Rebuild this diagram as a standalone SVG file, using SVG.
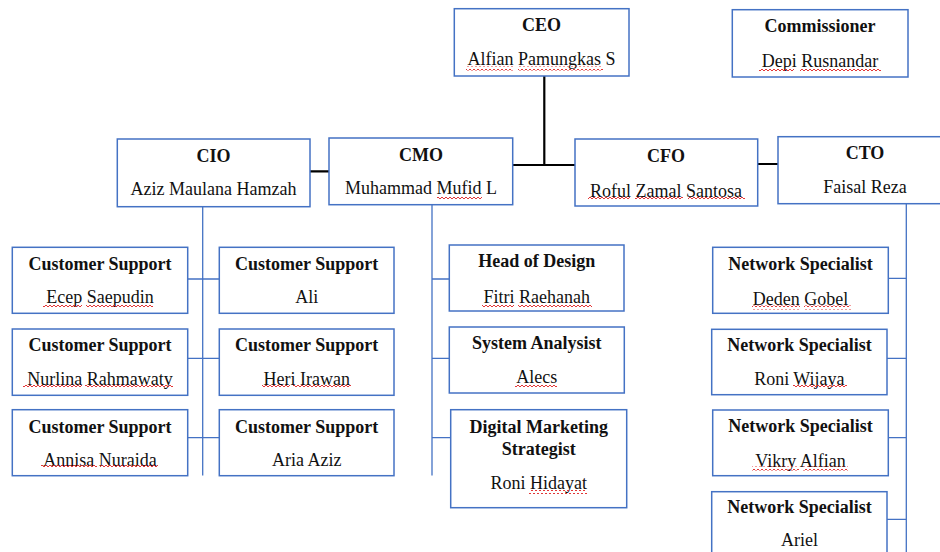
<svg xmlns="http://www.w3.org/2000/svg" width="940" height="552" viewBox="0 0 940 552">
<style>
.box{fill:#fff;stroke:#4472C4;stroke-width:1.5}
.t{font-family:"Liberation Serif","Times New Roman",serif;font-size:18px;fill:#111;text-anchor:middle}
.b{font-weight:bold}
.blk{stroke:#000;stroke-width:2.2;fill:none}
.blu{stroke:#4472C4;stroke-width:1.3;fill:none}
.sq{fill:url(#wave)}
</style>
<defs>
<pattern id="wave" width="4" height="4" patternUnits="userSpaceOnUse">
<path d="M0 3 L2 1 L4 3" fill="none" stroke="#e02020" stroke-width="0.9"/>
</pattern>
</defs>
<rect width="940" height="552" fill="#fff"/>
<g id="connectors">
<path class="blk" d="M544.3 76 V165 M512 165 H575 M757 164 H778 M310 171.3 H329"/>
<path class="blu" d="M202.7 207 V475.5 M188 279 H219 M188 358.3 H219 M188 437.7 H219"/>
<path class="blu" d="M432 205 V475.5 M432 279 H449 M432 358.3 H449 M432 437.7 H450.7"/>
<path class="blu" d="M906.3 204 V552 M888.3 278.3 H906.3 M885 358.3 H906.3 M888.3 437.7 H906.3 M887 519.3 H906.3"/>
</g>
<g id="ceo">
<rect class="box" x="454.3" y="8.7" width="174.7" height="67.3"/>
<text class="t b" x="541.5" y="30.7">CEO</text>
<text class="t" x="541.5" y="65">Alfian Pamungkas S</text>
<rect class="sq" x="466" y="66.5" width="47" height="4"/><rect class="sq" x="518" y="66.5" width="85" height="4"/>
</g>
<g id="commissioner">
<rect class="box" x="732.3" y="9.7" width="175.7" height="67.3"/>
<text class="t b" x="820" y="32">Commissioner</text>
<text class="t" x="820" y="66.7">Depi Rusnandar</text>
<rect class="sq" x="759" y="67.5" width="35" height="4"/><rect class="sq" x="800" y="67.5" width="81" height="4"/>
</g>
<g id="cio">
<rect class="box" x="117.3" y="139" width="192.7" height="67.7"/>
<text class="t b" x="213.5" y="161.7">CIO</text>
<text class="t" x="213.5" y="195">Aziz Maulana Hamzah</text>
</g>
<g id="cmo">
<rect class="box" x="329" y="138" width="183.7" height="66.7"/>
<text class="t b" x="421" y="160.7">CMO</text>
<text class="t" x="421" y="194">Muhammad Mufid L</text>
<rect class="sq" x="437" y="196.5" width="45" height="4"/>
</g>
<g id="cfo">
<rect class="box" x="575" y="139" width="182.7" height="67"/>
<text class="t b" x="666" y="161.7">CFO</text>
<text class="t" x="666" y="196.7">Roful Zamal Santosa</text>
<rect class="sq" x="588" y="196.5" width="42" height="4"/><rect class="sq" x="635" y="196.5" width="48" height="4"/><rect class="sq" x="688" y="196.5" width="57" height="4"/>
</g>
<g id="cto">
<rect class="box" x="778" y="136.7" width="174" height="67"/>
<text class="t b" x="865" y="159.3">CTO</text>
<text class="t" x="865" y="193.3">Faisal Reza</text>
</g>
<g id="cs1">
<rect class="box" x="12.3" y="247.3" width="175.4" height="66"/>
<text class="t b" x="100" y="270">Customer Support</text>
<text class="t" x="100" y="303">Ecep Saepudin</text>
<rect class="sq" x="43" y="305" width="39" height="4"/><rect class="sq" x="86" y="305" width="67" height="4"/>
</g>
<g id="cs2">
<rect class="box" x="219.3" y="247.3" width="174.7" height="66"/>
<text class="t b" x="306.7" y="270">Customer Support</text>
<text class="t" x="306.7" y="303">Ali</text>
</g>
<g id="cs3">
<rect class="box" x="12.3" y="329" width="175.4" height="66.3"/>
<text class="t b" x="100" y="351">Customer Support</text>
<text class="t" x="100" y="384.5">Nurlina Rahmawaty</text>
<rect class="sq" x="23" y="385" width="59" height="4"/><rect class="sq" x="85" y="385" width="88" height="4"/>
</g>
<g id="cs4">
<rect class="box" x="219.3" y="329" width="174.7" height="66.3"/>
<text class="t b" x="306.7" y="351">Customer Support</text>
<text class="t" x="306.7" y="384.5">Heri Irawan</text>
<rect class="sq" x="262" y="385" width="28" height="4"/><rect class="sq" x="293" y="385" width="58" height="4"/>
</g>
<g id="cs5">
<rect class="box" x="12.3" y="409.7" width="175.4" height="66"/>
<text class="t b" x="100" y="432.5">Customer Support</text>
<text class="t" x="100" y="465.5">Annisa Nuraida</text>
<rect class="sq" x="41" y="465" width="56" height="4"/><rect class="sq" x="100" y="465" width="58" height="4"/>
</g>
<g id="cs6">
<rect class="box" x="219.3" y="409.7" width="174.7" height="66"/>
<text class="t b" x="306.7" y="432.5">Customer Support</text>
<text class="t" x="306.7" y="465.5">Aria Aziz</text>
</g>
<g id="design">
<rect class="box" x="449.3" y="245" width="174.7" height="66"/>
<text class="t b" x="536.7" y="267.3">Head of Design</text>
<text class="t" x="536.7" y="303">Fitri Raehanah</text>
<rect class="sq" x="482" y="305" width="32" height="4"/><rect class="sq" x="518" y="305" width="74" height="4"/>
</g>
<g id="analyst">
<rect class="box" x="449.3" y="327" width="175" height="66"/>
<text class="t b" x="536.7" y="349.3">System Analysist</text>
<text class="t" x="536.7" y="382.7">Alecs</text>
<rect class="sq" x="515" y="383.5" width="42" height="4"/>
</g>
<g id="marketing">
<rect class="box" x="450.7" y="409.7" width="176" height="98"/>
<text class="t b" x="538.7" y="433.3">Digital Marketing</text>
<text class="t b" x="538.7" y="455">Strategist</text>
<text class="t" x="538.7" y="489.3">Roni Hidayat</text>
<rect class="sq" x="529" y="490" width="58" height="4"/>
</g>
<g id="ns1">
<rect class="box" x="712.7" y="247.3" width="175.6" height="66"/>
<text class="t b" x="800.5" y="270">Network Specialist</text>
<text class="t" x="800.5" y="305">Deden Gobel</text>
<rect class="sq" x="752" y="305.5" width="48" height="4"/><rect class="sq" x="804" y="305.5" width="47" height="4"/>
</g>
<g id="ns2">
<rect class="box" x="711.7" y="329.3" width="175.3" height="65.4"/>
<text class="t b" x="799.4" y="351">Network Specialist</text>
<text class="t" x="799.4" y="385">Roni Wijaya</text>
<rect class="sq" x="793" y="385" width="54" height="4"/>
</g>
<g id="ns3">
<rect class="box" x="712.7" y="410" width="175.6" height="65.7"/>
<text class="t b" x="800.5" y="432.3">Network Specialist</text>
<text class="t" x="800.5" y="466.7">Vikry Alfian</text>
<rect class="sq" x="752" y="466.5" width="47" height="4"/><rect class="sq" x="803" y="466.5" width="45" height="4"/>
</g>
<g id="ns4">
<rect class="box" x="711.7" y="491.7" width="175.3" height="70"/>
<text class="t b" x="799.4" y="512.7">Network Specialist</text>
<text class="t" x="799.4" y="546">Ariel</text>
</g>
</svg>
